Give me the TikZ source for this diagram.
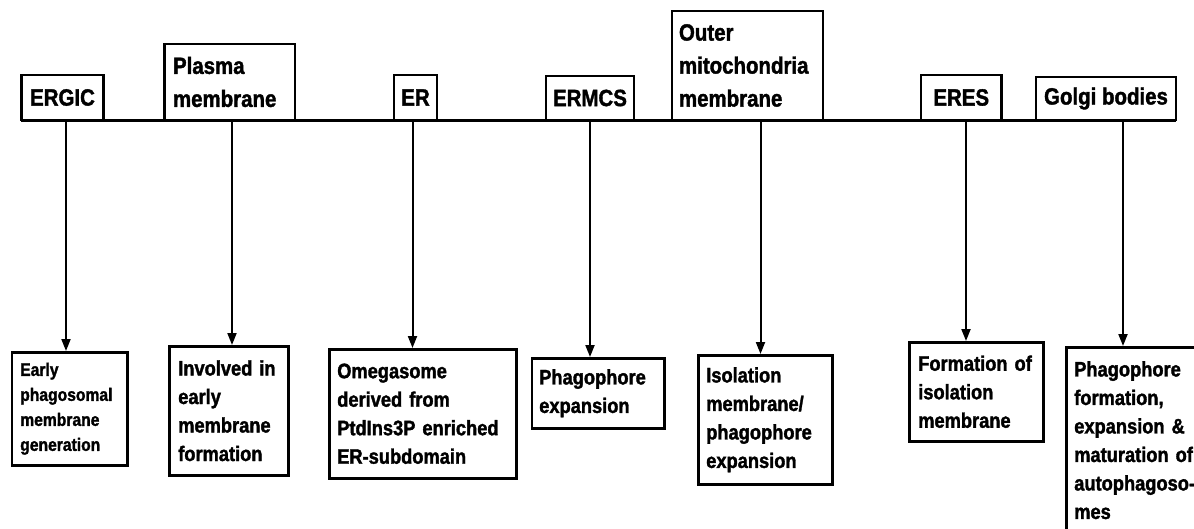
\documentclass[tikz,border=0pt]{standalone}
\usepackage{fontspec}
\setmainfont{Liberation Sans}[FakeStretch=0.87, BoldFeatures={FakeBold=1.6}]
\usetikzlibrary{arrows.meta}
\newcommand\topfont{\bfseries\fontsize{23.5}{33}\selectfont}
\newcommand\botfont{\bfseries\fontsize{21}{28.5}\selectfont}
\newcommand\smallbotfont{\bfseries\fontsize{18}{25}\selectfont}
\tikzset{
  tbox/.style={draw, line width=2.8pt, fill=white, font=\topfont, inner sep=0pt, align=center},
  bbox/.style={draw, line width=2.5pt, fill=white, font=\botfont, align=left, inner ysep=0pt},
  mainline/.style={line width=3.5pt},
  arr/.style={line width=2pt, -{Triangle[width=9pt,length=12pt]}}
}
\begin{document}
\begin{tikzpicture}[x=1pt,y=-1pt]
\useasboundingbox (0,0) rectangle (1194,529);
% main line
\coordinate (L) at (20.7,120.5);
\coordinate (R) at (1176,120.5);
\draw[mainline] (L) -- (R);
% top boxes
\node[tbox, minimum width=82pt, minimum height=45pt] (t1) at (62.5,97.5) {ERGIC};
\node[tbox, minimum width=130.5pt, minimum height=76pt, align=left, inner xsep=8.5pt, text width=113.5pt] (t2) at (229.75,82) {Plasma\\membrane};
\node[tbox, minimum width=43pt, minimum height=45pt] (t3) at (415.5,97.5) {ER};
\node[tbox, minimum width=88pt, minimum height=44pt] (t4) at (590,98) {ERMCS};
\node[tbox, minimum width=151pt, minimum height=109pt, align=left, inner xsep=7pt, text width=137pt] (t5) at (747.5,65.5) {Outer\\mitochondria\\membrane};
\node[tbox, minimum width=80.5pt, minimum height=45pt] (t6) at (961.25,97.5) {ERES};
\node[tbox, minimum width=140pt, minimum height=43pt] (t7) at (1106,98.5) {Golgi bodies};
% bottom boxes
\node[bbox, font=\smallbotfont, anchor=north west, inner xsep=8.3pt, text width=98.7pt, minimum height=113pt] (b1) at (10.7,351) {Early\\phagosomal\\membrane\\generation};
\node[bbox, anchor=north west, inner xsep=9pt, text width=101pt, minimum height=129pt] (b2) at (168,345) {Involved in\\early\\membrane\\formation};
\node[bbox, anchor=north west, inner xsep=8pt, text width=171pt, minimum height=129pt] (b3) at (328,348) {Omegasome\\derived from\\PtdIns3P enriched\\ER-subdomain};
\node[bbox, anchor=north west, inner xsep=7.3pt, text width=117.7pt, minimum height=70pt] (b4) at (530.7,357) {Phagophore\\expansion};
\node[bbox, anchor=north west, inner xsep=8pt, text width=118pt, minimum height=129pt] (b5) at (697,354) {Isolation\\membrane/\\phagophore\\expansion};
\node[bbox, anchor=north west, inner xsep=9pt, text width=116pt, minimum height=99pt] (b6) at (908,341) {Formation of\\isolation\\membrane};
\node[bbox, anchor=north west, inner xsep=8pt, inner ysep=14pt, text width=150pt] (b7) at (1065,346) {Phagophore\\formation,\\expansion \&\\maturation of\\autophagoso-\\mes};
% arrows
\coordinate (a1) at (66,120.5);
\coordinate (a2) at (232,120.5);
\coordinate (a3) at (412.5,120.5);
\coordinate (a4) at (590,120.5);
\coordinate (a5) at (760.5,120.5);
\coordinate (a6) at (966,120.5);
\coordinate (a7) at (1123,120.5);
\draw[arr] (a1) -- (a1 |- b1.north);
\draw[arr] (a2) -- (a2 |- b2.north);
\draw[arr] (a3) -- (a3 |- b3.north);
\draw[arr] (a4) -- (a4 |- b4.north);
\draw[arr] (a5) -- (a5 |- b5.north);
\draw[arr] (a6) -- (a6 |- b6.north);
\draw[arr] (a7) -- (a7 |- b7.north);
\end{tikzpicture}
\end{document}
